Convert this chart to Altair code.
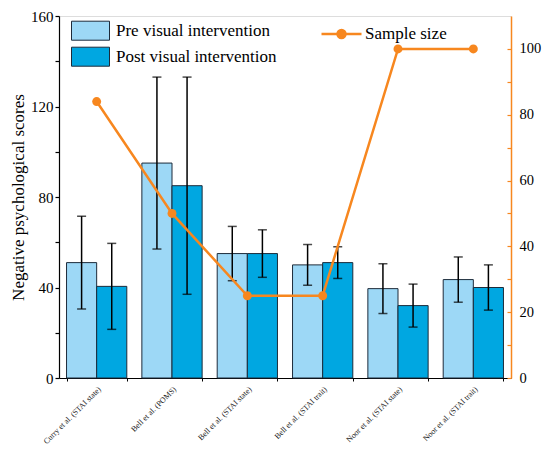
import altair as alt
import pandas as pd

studies = [
    "Curry et al. (STAI state)",
    "Bell et al. (POMS)",
    "Bell et al. (STAI state)",
    "Bell et al. (STAI trait)",
    "Noor et al. (STAI state)",
    "Noor et al. (STAI trait)",
]
pre_mean = [51, 95, 55, 50, 39.5, 43.5]
pre_err = [20.5, 38, 12, 9, 11, 10]
post_mean = [40.5, 85, 55, 51, 32, 40]
post_err = [19, 48, 10.5, 7, 9.5, 10]
sample_size = [84, 50, 25, 25, 100, 100]

periods = ["Pre visual intervention", "Post visual intervention"]
bar_colors = ["#9dd8f6", "#00a7e1"]
orange = "#f7871f"
serif = "Liberation Serif"

rows = []
for i, s in enumerate(studies):
    for p, m, e in ((periods[0], pre_mean[i], pre_err[i]), (periods[1], post_mean[i], post_err[i])):
        rows.append({"study": s, "period": p, "score": m, "lo": m - e, "hi": m + e})
bars_df = pd.DataFrame(rows)
line_df = pd.DataFrame({"study": studies, "n": sample_size, "series": ["Sample size"] * len(studies)})

xscale = alt.Scale(domain=studies, paddingInner=0.2, paddingOuter=0.1)
xaxis = alt.Axis(
    title=None, labelAngle=-45, labelFontSize=8, labelFont=serif, labelColor="#222",
    tickBand="extent", tickSize=3, domainColor="black", tickColor="black",
    labelPadding=4, labelAlign="right", labelBaseline="top",
)
x = alt.X("study:N", scale=xscale, sort=studies, axis=xaxis)
xoff = alt.XOffset("period:N", scale=alt.Scale(domain=periods), sort=periods)

yscale = alt.Scale(domain=[0, 160], nice=False)
yaxis = alt.Axis(
    title="Negative psychological scores", titleFont=serif, titleFontSize=17,
    titleFontWeight="normal", titleColor="black", titlePadding=3,
    values=list(range(0, 161, 20)),
    labelExpr="datum.value % 40 === 0 ? datum.label : ''",
    labelFont=serif, labelFontSize=15, labelColor="black",
    tickSize=4,
    domainColor="black", tickColor="black", domainWidth=1.2, tickWidth=1.2,
    grid=False, labelPadding=2,
)

bars = alt.Chart(bars_df).mark_bar(stroke="#1d2b3a", strokeWidth=1).encode(
    x=x, xOffset=xoff,
    y=alt.Y("score:Q", scale=yscale, axis=yaxis),
    color=alt.Color(
        "period:N", scale=alt.Scale(domain=periods, range=bar_colors),
        legend=alt.Legend(
            title=None, orient="none", legendX=21.5, legendY=4.7,
            symbolType="M-2,-1H2V1H-2Z", symbolSize=361,
            symbolStrokeColor="#1d2b3a", symbolStrokeWidth=1, symbolOpacity=1,
            labelFont=serif, labelFontSize=17, labelColor="black", labelLimit=400,
            labelOffset=15.5, rowPadding=2, padding=0,
        ),
    ),
)
whisk = alt.Chart(bars_df).mark_rule(color="black", strokeWidth=1.5).encode(
    x=x, xOffset=xoff, y=alt.Y("lo:Q", scale=yscale, axis=yaxis), y2="hi:Q"
)
cap_hi = alt.Chart(bars_df).mark_tick(color="black", thickness=1.5, size=9).encode(
    x=x, xOffset=xoff, y=alt.Y("hi:Q", scale=yscale, axis=yaxis)
)
cap_lo = alt.Chart(bars_df).mark_tick(color="black", thickness=1.5, size=9).encode(
    x=x, xOffset=xoff, y=alt.Y("lo:Q", scale=yscale, axis=yaxis)
)
left = alt.layer(bars, whisk, cap_hi, cap_lo)

rscale = alt.Scale(domain=[0, 110], nice=False)
raxis = alt.Axis(
    orient="right", title=None, values=list(range(0, 101, 10)),
    labelExpr="datum.value % 20 === 0 ? datum.label : ''",
    labelFont=serif, labelFontSize=14.5, labelColor="black",
    domainColor=orange, domainWidth=1.5, tickColor=orange, tickWidth=1.2,
    tickSize=alt.ExprRef(expr="-4"), labelPadding=12, grid=False,
)
line = alt.Chart(line_df).mark_line(color=orange, strokeWidth=2.5).encode(
    x=x, y=alt.Y("n:Q", scale=rscale, axis=raxis)
)
points = alt.Chart(line_df).mark_point(filled=True, size=80, opacity=1).encode(
    x=x, y=alt.Y("n:Q", scale=rscale, axis=raxis),
    color=alt.Color(
        "series:N", scale=alt.Scale(domain=["Sample size"], range=[orange]),
        legend=alt.Legend(
            title=None, orient="none", legendX=274, legendY=9.5,
            symbolType="M-5,0H5M-1,0A1,1 0 1,0 1,0A1,1 0 1,0 -1,0Z", symbolSize=64,
            symbolStrokeColor=orange, symbolFillColor=orange, symbolStrokeWidth=2.5, symbolOpacity=1,
            labelFont=serif, labelFontSize=17, labelColor="black", labelLimit=300,
            labelOffset=15, padding=0,
        ),
    ),
)
right = alt.layer(line, points)

chart = alt.layer(left, right).resolve_scale(
    y="independent", color="independent"
).resolve_legend(color="independent").properties(
    width=452, height=362,
    padding={"left": 51, "top": 8, "right": 31, "bottom": 72},
    autosize=alt.AutoSizeParams(type="none"),
).configure_view(stroke="black", strokeWidth=1.2).configure(background="white")

chart.save("out.html", embed_options={"renderer": "svg", "actions": False})
